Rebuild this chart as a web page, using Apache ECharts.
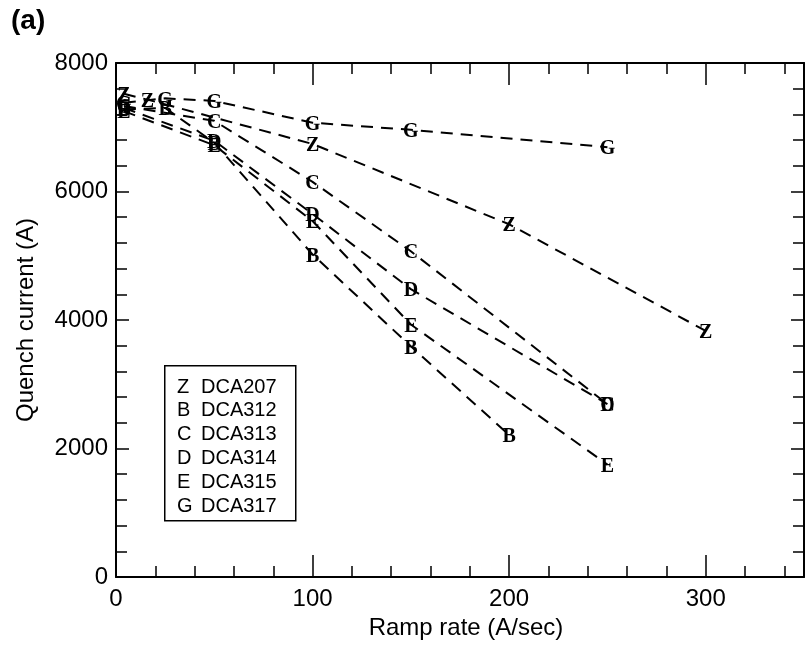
<!DOCTYPE html>
<html>
<head>
<meta charset="utf-8">
<script src="https://cdn.jsdelivr.net/npm/echarts@6/dist/echarts.min.js"></script>
<style>
html,body{margin:0;padding:0;background:#fff;}
#chart{width:807px;height:648px;}
</style>
</head>
<body>
<div id="chart"></div>
<script>
// ---- data ----
const letters = ['Z', 'B', 'C', 'D', 'E', 'G'];
const magnetNames = ['DCA207', 'DCA312', 'DCA313', 'DCA314', 'DCA315', 'DCA317'];

const rateZ = [4, 16, 100, 200, 300];
const currentZ = [7520, 7430, 6740, 5490, 3830];
const rateB = [4, 25, 50, 100, 150, 200];
const currentB = [7280, 7300, 6760, 5020, 3590, 2210];
const rateC = [4, 50, 100, 150, 250];
const currentC = [7330, 7100, 6150, 5070, 2690];
const rateD = [4, 50, 100, 150, 250];
const currentD = [7300, 6790, 5650, 4480, 2690];
const rateE = [4, 50, 100, 150, 250];
const currentE = [7250, 6720, 5540, 3930, 1750];
const rateG = [4, 25, 50, 100, 150, 250];
const currentG = [7380, 7450, 7410, 7070, 6960, 6690];

const xTickLabels = ['0', '100', '200', '300'];
const yTickLabels = ['0', '2000', '4000', '6000', '8000'];
const xTitle = 'Ramp rate (A/sec)';
const yTitle = 'Quench current (A)';
const panelTitle = '(a)';

const rates = [rateZ, rateB, rateC, rateD, rateE, rateG];
const currents = [currentZ, currentB, currentC, currentD, currentE, currentG];

// ---- chart ----
const chart = echarts.init(document.getElementById('chart'), null, {renderer: 'canvas'});
const FONT = '"Liberation Sans", Arial, sans-serif';
const MARK_FONT = '"Liberation Serif", "DejaVu Serif", serif';

const series = letters.map((L, i) => ({
  type: 'line',
  name: magnetNames[i],
  xAxisIndex: 0, yAxisIndex: 0,
  data: rates[i].map((x, j) => [x, currents[i][j]]),
  symbol: 'rect',
  symbolSize: 2,
  showSymbol: true,
  itemStyle: {color: 'rgba(0,0,0,0)', borderWidth: 0},
  lineStyle: {color: '#000', width: 2, type: [12, 8]},
  label: {
    show: true, position: 'inside', offset: [0, 2], formatter: L, color: '#000',
    fontFamily: MARK_FONT, fontWeight: 'bold', fontSize: 20
  },
  emphasis: {disabled: true},
  silent: true,
  animation: false,
  z: 2
}));

function axisLine() {
  return {show: true, onZero: false, lineStyle: {color: '#000', width: 2}};
}
function ticks(len, minorLen) {
  return {
    axisTick: {show: true, inside: true, length: len, lineStyle: {color: '#000', width: 1.5}},
    minorTick: {show: true, splitNumber: 5, length: minorLen, lineStyle: {color: '#000', width: 1.5}}
  };
}

const graphics = [
  {type: 'text', left: 11, top: 7, style: {text: panelTitle, font: 'bold 28px ' + FONT, fill: '#000'}},
  {type: 'rect', left: 164, top: 365, shape: {width: 131, height: 155},
    style: {fill: '#fff', stroke: '#000', lineWidth: 1.5}, z: 10}
];
letters.forEach((L, i) => {
  const y = 377 + i * 23.8;
  graphics.push({type: 'text', left: 177, top: y, z: 11,
    style: {text: L, font: '20px ' + FONT, fill: '#000'}});
  graphics.push({type: 'text', left: 201, top: y, z: 11,
    style: {text: magnetNames[i], font: '20px ' + FONT, fill: '#000'}});
});

const option = {
  animation: false,
  backgroundColor: '#fff',
  grid: {left: 116, top: 63, right: 1, bottom: 71, containLabel: false},
  xAxis: [
    Object.assign({
      type: 'value', min: 0, max: 350, interval: 100, position: 'bottom',
      name: xTitle, nameLocation: 'middle', nameGap: 39,
      nameTextStyle: {fontFamily: FONT, fontSize: 24, color: '#000', padding: [0, 0, 0, 12]},
      axisLine: axisLine(), splitLine: {show: false},
      axisLabel: {show: true, margin: 10, fontFamily: FONT, fontSize: 24, color: '#000',
        formatter: v => xTickLabels[xTickLabels.indexOf(String(v))] || ''}
    }, ticks(22, 11)),
    Object.assign({
      type: 'value', min: 0, max: 350, interval: 100, position: 'top',
      axisLine: axisLine(), splitLine: {show: false},
      axisLabel: {show: false}
    }, ticks(22, 11))
  ],
  yAxis: [
    Object.assign({
      type: 'value', min: 0, max: 8000, interval: 2000, position: 'left',
      name: yTitle, nameLocation: 'middle', nameGap: 78, nameRotate: 90,
      nameTextStyle: {fontFamily: FONT, fontSize: 24, color: '#000'},
      axisLine: axisLine(), splitLine: {show: false},
      axisLabel: {show: true, margin: 8, fontFamily: FONT, fontSize: 24, color: '#000',
        formatter: v => yTickLabels[yTickLabels.indexOf(String(v))] || ''}
    }, ticks(13, 11)),
    Object.assign({
      type: 'value', min: 0, max: 8000, interval: 2000, position: 'right',
      axisLine: axisLine(), splitLine: {show: false},
      axisLabel: {show: false}
    }, ticks(13, 11))
  ],
  graphic: graphics,
  series: series
};
chart.setOption(option);
</script>
</body>
</html>
